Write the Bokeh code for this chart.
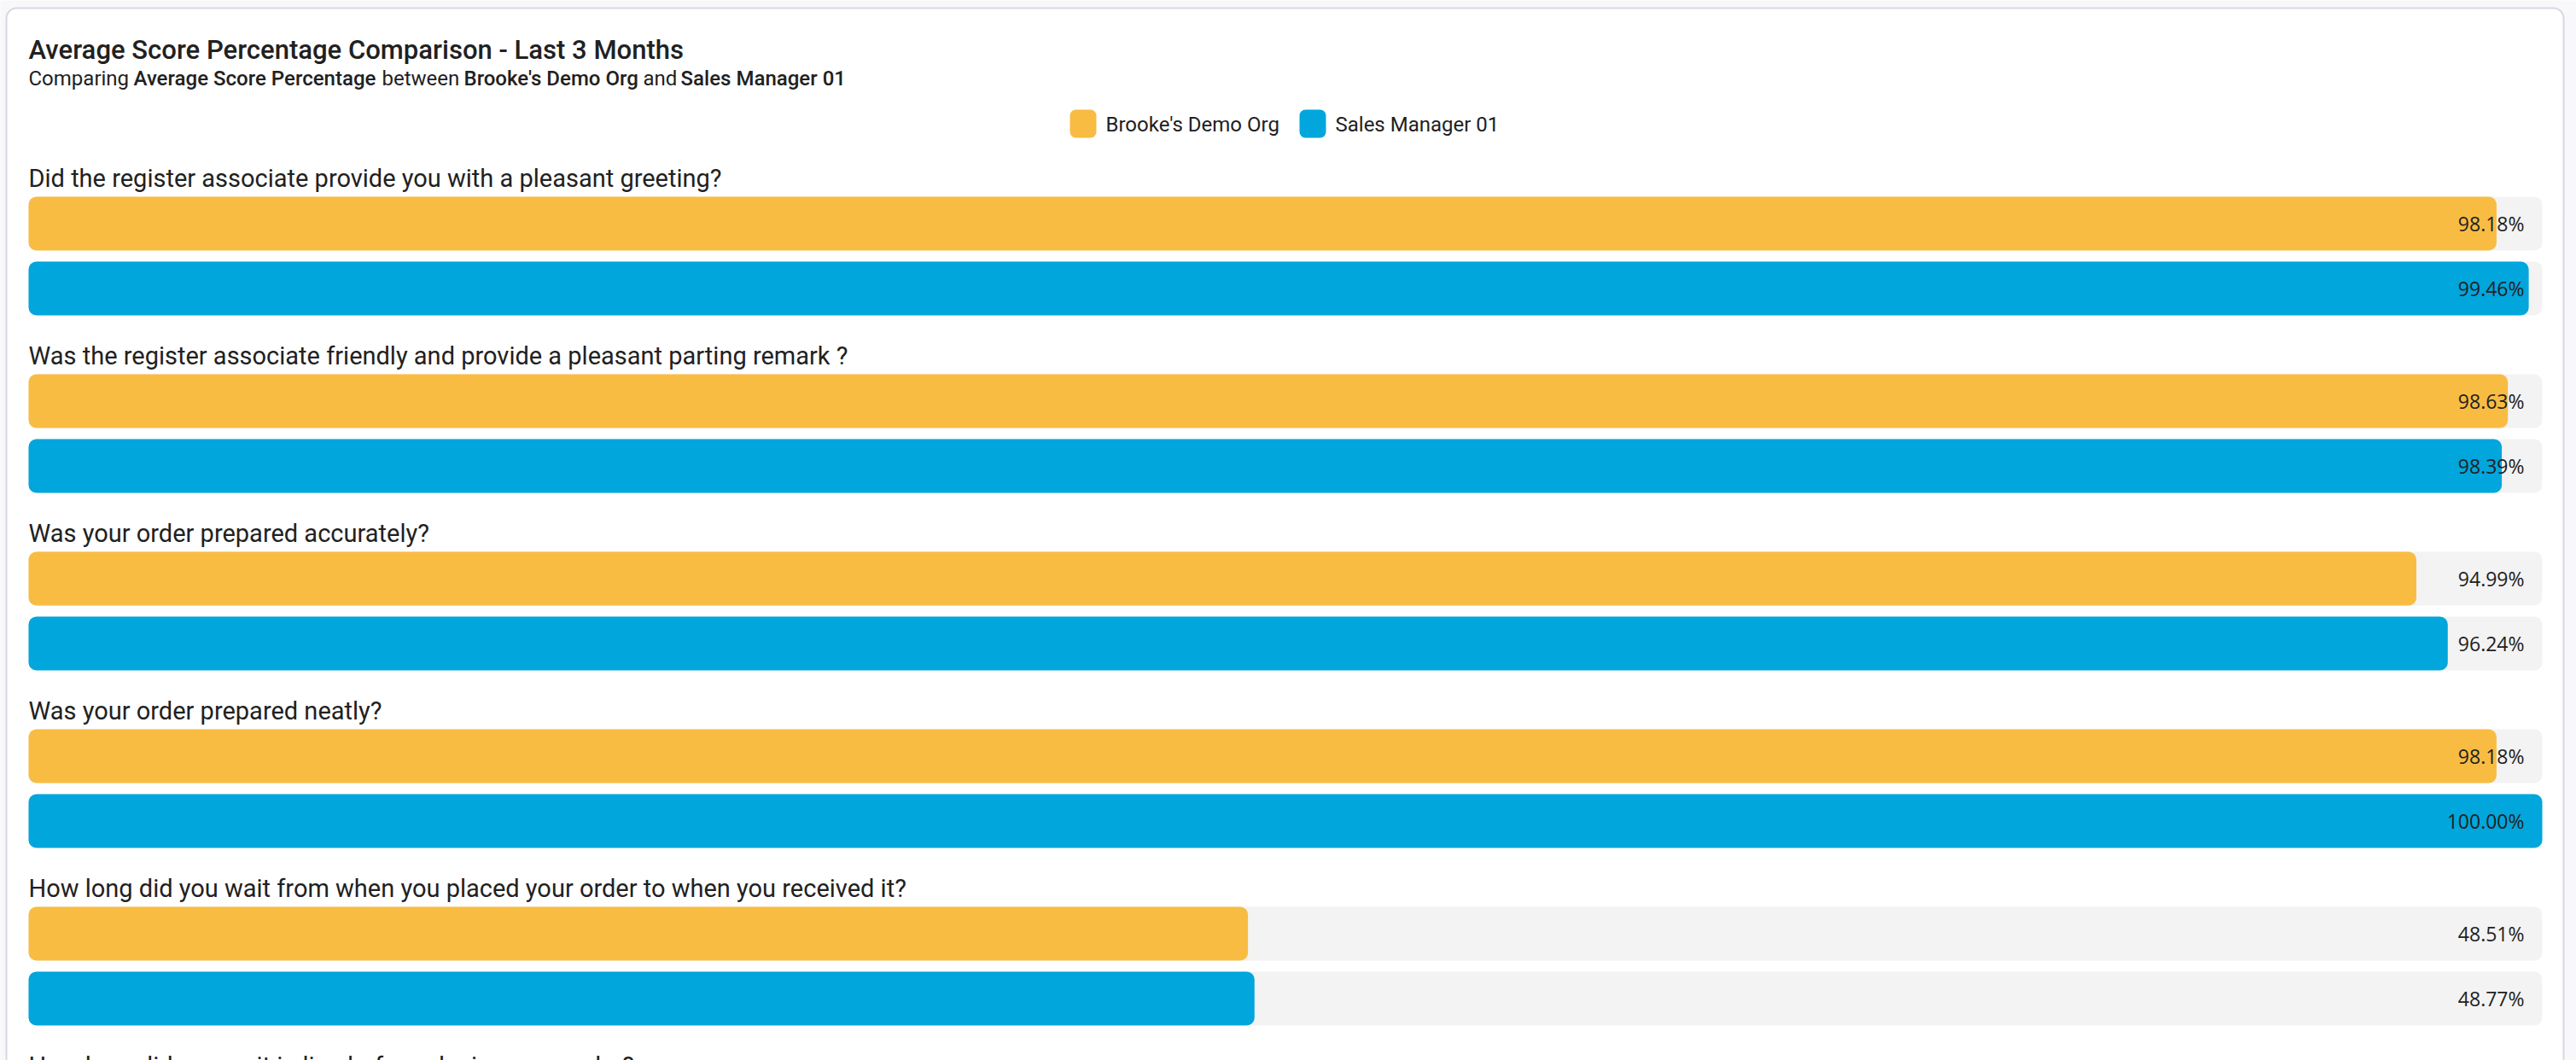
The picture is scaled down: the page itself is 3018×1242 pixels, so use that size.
from bokeh.plotting import figure
from bokeh.models import Range1d, ColumnDataSource
from bokeh.core.properties import value
from bokeh.embed import file_html
from bokeh.resources import INLINE

# ---------------- data ----------------
title = "Average Score Percentage Comparison - Last 3 Months"
subtitle_parts = [("Comparing", False), ("Average Score Percentage", True), ("between", False),
                  ("Brooke's Demo Org", True), ("and", False), ("Sales Manager 01", True)]
series_names = ["Brooke's Demo Org", "Sales Manager 01"]
series_colors = ["#F9BC42", "#00A6DC"]
questions = [
    "Did the register associate provide you with a pleasant greeting?",
    "Was the register associate friendly and provide a pleasant parting remark ?",
    "Was your order prepared accurately?",
    "Was your order prepared neatly?",
    "How long did you wait from when you placed your order to when you received it?",
    "How long did you wait in line before placing your order?",
]
brooke = [98.18, 98.63, 94.99, 98.18, 48.51]
manager = [99.46, 98.39, 96.24, 100.00, 48.77]

# ---------------- layout ----------------
W, H = 3018, 1242
TRACK_L, TRACK_W = 33, 2945
def px_x(px):
    return (px - TRACK_L) / TRACK_W * 100.0

p = figure(width=W, height=H, output_backend="svg", toolbar_location=None,
           x_range=Range1d(px_x(0), px_x(W)), y_range=Range1d(H, 0),
           x_axis_location=None, y_axis_location=None, min_border=0,
           background_fill_color="#F8F8FA", border_fill_color="#F8F8FA")
p.grid.visible = False
p.outline_line_color = None

# card
p.quad(left=[px_x(7)], right=[px_x(3003)], top=[9], bottom=[1330],
       fill_color="white", line_color="#D5D7E6", line_width=2, border_radius=12)

TXT = "#212121"
# title & subtitle
p.text(x=[px_x(33)], y=[58], text=[title], text_font=value("Roboto Medium"),
       text_font_size="31px", text_baseline="middle", text_align="left", text_color=TXT)
sub_x = [33, 156, 447, 543, 753, 797]
for (s, b), sx in zip(subtitle_parts, sub_x):
    p.text(x=[px_x(sx)], y=[91], text=[s],
           text_font=value("Roboto Medium" if b else "Roboto"),
           text_font_size="24px", text_baseline="middle", text_align="left", text_color=TXT)

# legend
leg_box_x = [1253, 1522]
for name, col, bx in zip(series_names, series_colors, leg_box_x):
    p.quad(left=[px_x(bx)], right=[px_x(bx + 31)], top=[128], bottom=[161],
           fill_color=col, line_color=None, border_radius=7)
    p.text(x=[px_x(bx + 42)], y=[145], text=[name], text_font=value("Roboto"),
           text_font_size="24px", text_baseline="middle", text_align="left", text_color=TXT)

# groups
GROUP0, PERIOD = 208, 208
BAR_H, BAR1_OFF, BAR2_OFF = 63, 53.5, 129.5
q_y = [GROUP0 + PERIOD * i for i in range(len(questions))]
p.text(x=[px_x(33)] * len(questions), y=q_y, text=questions, text_font=value("Roboto"),
       text_font_size="29px", text_baseline="middle", text_align="left", text_color=TXT)

n = len(brooke)
for vals, col, off in [(brooke, series_colors[0], BAR1_OFF), (manager, series_colors[1], BAR2_OFF)]:
    ys = [q_y[i] + off for i in range(n)]
    src = ColumnDataSource(dict(y=ys, v=vals, full=[100] * n,
                                lab=[f"{v:.2f}%" for v in vals],
                                lx=[px_x(2957)] * n))
    p.hbar(y="y", left=0, right="full", height=BAR_H, source=src,
           fill_color="#F3F3F3", line_color=None, border_radius=9)
    p.hbar(y="y", left=0, right="v", height=BAR_H, source=src,
           fill_color=col, line_color=None, border_radius=9)
    p.text(x="lx", y="y", text="lab", source=src, text_font=value("Open Sans"),
           text_font_size="23px", text_baseline="middle", text_align="right", text_color=TXT)

open("out.html", "w").write(file_html(p, INLINE))
